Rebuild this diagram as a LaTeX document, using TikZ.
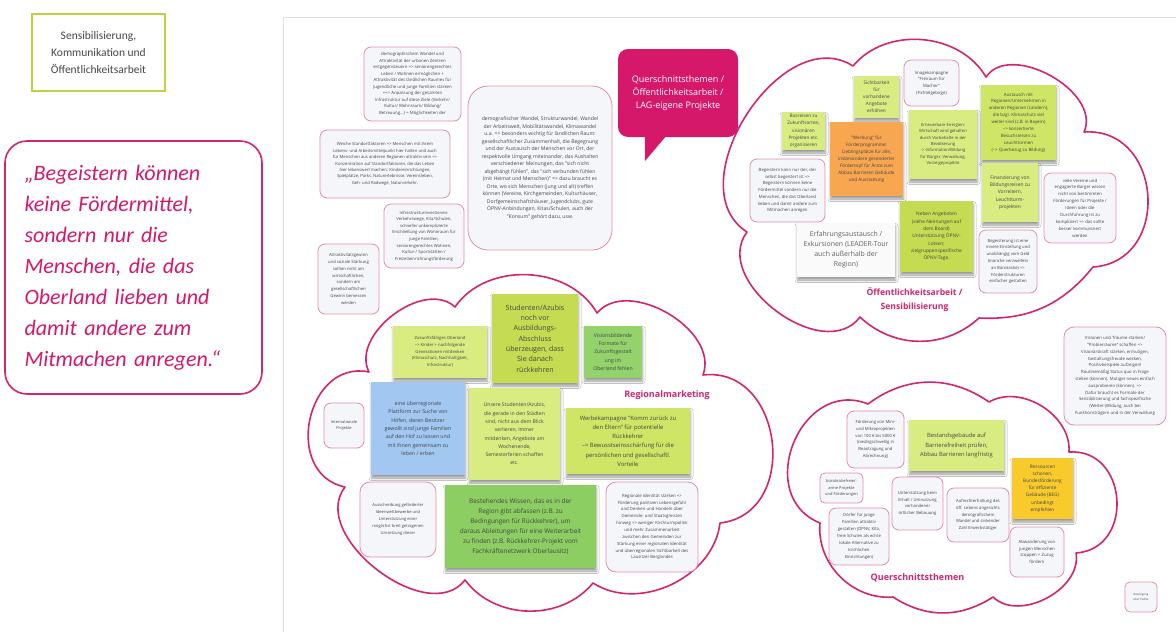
\documentclass[tikz,border=0pt]{standalone}
\usepackage{fontspec}
\setmainfont{Open Sans}
\newfontfamily\calfont{Carlito}
\usepackage{tikz}
\usetikzlibrary{
  positioning,
  shadows.blur
}
\usepackage{xcolor}

\definecolor{cloudline}{RGB}{212,36,112}
\definecolor{bubblefill}{RGB}{214,24,106}
\definecolor{pinkedge}{RGB}{226,140,178}
\definecolor{boxfill}{RGB}{245,246,249}
\definecolor{notetext}{RGB}{70,70,70}
\definecolor{limelight}{RGB}{216,236,130}
\definecolor{limemid}{RGB}{206,229,102}
\definecolor{limedark}{RGB}{196,219,82}
\definecolor{notegreen}{RGB}{148,210,108}
\definecolor{notegreendeep}{RGB}{140,206,98}
\definecolor{noteorange}{RGB}{248,166,80}
\definecolor{noteyellow}{RGB}{248,202,44}
\definecolor{noteblue}{RGB}{162,199,240}
\definecolor{topicedge}{RGB}{190,212,62}

\newcommand{\fsz}[2]{\fontsize{#1}{#2}\selectfont}

\tikzset{
	pinkbox/.style={draw=pinkedge, line width=0.8pt, fill=boxfill, rounded corners=7pt,
		align=center, text=notetext, inner sep=1pt},
	sticky/.style={align=center, text=notetext, inner sep=1pt,
		blur shadow={shadow xshift=0.5pt, shadow yshift=-3pt, shadow blur radius=2.5pt, shadow opacity=40}},
	puffline/.style={draw=cloudline, line width=1.6pt, fill=white, line join=round},
	cloudtitle/.style={text=cloudline, font=\bfseries\fsz{8.6}{13.5}, align=center}
}

\begin{document}
\begin{tikzpicture}[x=1pt, y=-1pt]
	\useasboundingbox (0,0) rectangle (1176,632);
	\fill[white] (0,0) rectangle (1176,632);

	% left side
	\node[draw=topicedge, line width=1.6pt, minimum width=133pt, minimum height=77pt, align=center,
		text=notetext, font=\calfont\fsz{11.5}{16.8}] (topicbox) at (98.5,52.5)
		{Sensibilisierung,\\Kommunikation und\\Öffentlichkeitsarbeit};
	\node[draw=cloudline, line width=1.6pt, rounded corners=22pt, minimum width=257pt, minimum height=253pt,
		text width=218pt, align=left, text=bubblefill, font=\calfont\itshape\fsz{22}{31}] (quotebox) at (133.5,267.5)
		{„Begeistern können\\keine Fördermittel,\\sondern nur die\\Menschen, die das\\Oberland lieben und\\damit andere zum\\Mitmachen anregen.“};

	% board
	\draw[gray!25, line width=1pt] (1176,17) -- (283,17) -- (283,632);

	% clouds
	\draw[puffline] (853,66) to[bend left=55] (986,77) to[bend left=85] (1084,132)
		to[bend left=90, looseness=1.5] (1093,267) to[bend left=27] (979,318) to[bend left=43] (860,317)
		to[bend left=90, looseness=1.1] (747,232) to[bend left=90, looseness=1.1] (853,66) -- cycle;
	\draw[puffline] (455,307) to[bend left=58] (597,313) to[bend left=80] (703,375)
		to[bend left=90, looseness=1.4] (720,523) to[bend left=58] (593,583) to[bend left=52] (465,580)
		to[bend left=90, looseness=1.03] (345,487) to[bend left=90, looseness=1.4] (369,372)
		to[bend left=80] (455,307) -- cycle;
	\draw[puffline] (868,404) to[bend left=36] (989,402) to[bend left=62] (1069,452)
		to[bend left=90, looseness=1.5] (1076,553) to[bend left=72] (993,597) to[bend left=33] (893,597)
		to[bend left=50] (820,523) to[bend left=90, looseness=1.45] (868,404) -- cycle;

	% loose notes, top left of the board
	\node[pinkbox, minimum width=97pt, minimum height=74pt, font=\fsz{4.3}{6.5}] (demowandel) at (412.5,84)
		{demographischem Wandel und\\Attraktivität der urbanen Zentren\\entgegensteuern => seniorengerechtes\\Leben / Wohnen ermöglichen +\\Attraktivität des ländlichen Raumes für\\Jugendliche und junge Familien stärken\\==> Anpassung der gesamten\\Infrastruktur auf diese Ziele (Verkehr/\\Kultur/ Wohnraum/ Bildung/\\Betreuung...) = Möglichkeiten der};
	\node[pinkbox, minimum width=130pt, minimum height=68pt, font=\fsz{4.2}{6.4}] (standort) at (385,164)
		{Weiche Standortfaktoren => Menschen mit ihrem\\Lebens- und Arbeitsmittelpunkt hier halten und auch\\für Menschen aus anderen Regionen attraktiv sein =>\\Konzentration auf Standortfaktoren, die das Leben\\hier lebenswert machen: Kindereinrichtungen,\\Spielplätze, Parks, Naturerlebnisse, Vereinsleben,\\Geh- und Radwege, Naturverkehr.};
	\node[pinkbox, minimum width=80pt, minimum height=64pt, font=\fsz{4.2}{6.6}] (infra) at (424,236)
		{Infrastrukturinvestionen:\\Verkehrswege, Kita/Schulen,\\schnelle/ unkomplizierte\\Erschließung von Wohnraum für\\junge Familien,\\seniorengerechtes Wohnen,\\Kultur-/ Sportstätten-/\\Freizeiteinrichtungsförderung};
	\node[pinkbox, minimum width=61pt, minimum height=70pt, font=\fsz{4.2}{6.8}] (gewinn) at (348.5,279)
		{Attraktivitätsgewinn\\und soziale Stärkung\\sollten nicht am\\wirtschaftlichen,\\sondern am\\gesellschaftlichen\\Gewinn bemessen\\werden};
	\node[pinkbox, rounded corners=20pt, minimum width=144pt, minimum height=164pt, font=\fsz{5.1}{7.5}] (zusammenhalt) at (540,168)
		{demografischer Wandel, Strukturwandel, Wandel\\der Arbeitswelt, Mobilitätswandel, Klimawandel\\u.a. => besonders wichtig für ländlichen Raum:\\gesellschaftlicher Zusammenhalt, die Begegnung\\und der Austausch der Menschen vor Ort, der\\respektvolle Umgang miteinander, das Aushalten\\verschiedener Meinungen, das "sich nicht\\abgehängt fühlen", das "sich verbunden fühlen\\(mit Heimat und Menschen)" => dazu braucht es\\Orte, wo sich Menschen (jung und alt) treffen\\können (Vereine, Kirchgemeinden, Kulturhäuser,\\Dorfgemeinschaftshäuser, Jugendclubs, gute\\ÖPNV-Anbindungen, Kitas/Schulen, auch der\\"Konsum" gehört dazu, usw.};

	% speech bubble
	\node[fill=bubblefill, rounded corners=10pt, minimum width=120pt, minimum height=88pt, align=center,
		text=white, font=\fsz{9}{13.3}] (lagbubble) at (678,93)
		{Querschnittsthemen /\\Öffentlichkeitsarbeit /\\LAG-eigene Projekte};
	\fill[bubblefill] ([xshift=27pt, yshift=2pt]lagbubble.south west) -- ++(22,0) -- ++(-22,26) -- cycle;

	% Oeffentlichkeitsarbeit / Sensibilisierung
	\node[sticky, fill=limelight, minimum width=43pt, minimum height=38pt, font=\fsz{4.7}{7.2}] (busreisen) at (803.5,131)
		{Busreisen zu\\Zukunftsorten,\\visionären\\Projekten etc.\\organisieren};
	\node[sticky, fill=limelight, minimum width=45pt, minimum height=42pt, font=\fsz{4.7}{6.9}] (sichtbarkeit) at (876.5,97)
		{Sichtbarkeit\\für\\vorhandene\\Angebote\\erhöhen};
	\node[pinkbox, minimum width=55pt, minimum height=46pt, font=\fsz{4.3}{6.6}] (imagekampagne) at (931.5,83)
		{Imagekampagne\\"Freiraum für\\Macher"\\(Fichtelgebirge)};
	\node[sticky, fill=noteorange, minimum width=73pt, minimum height=74pt, font=\fsz{4.6}{7}] (werbung) at (866.5,159)
		{"Werbung" für\\Förderprogramme:\\Lieblingsplätze für alle,\\insbesondere gesonderter\\Fördertopf für Ärzte zum\\Abbau Barrieren Gebäude\\und Ausstattung};
	\node[sticky, fill=limelight, minimum width=68pt, minimum height=69pt, font=\fsz{4.2}{6.4}] (energien) at (943,144.5)
		{Erneuerbare Energien:\\Wirtschaft wird gehalten\\durch Vorbehalte in der\\Bevölkerung\\-> Information/Bildung\\für Bürger, Verwaltung,\\Vorzeigeprojekte};
	\node[sticky, fill=limemid, minimum width=75pt, minimum height=75pt, font=\fsz{4.4}{6.9}] (austausch) at (1018.5,122.5)
		{Austausch mit\\Regionen/Unternehmen in\\anderen Regionen (Ländern),\\die bzgl. Klimaschutz viel\\weiter sind (z.B. in Bayern)\\--> konzertierte\\Besuchsreisen zu\\Leuchttürmen\\(--> Querbezug zu Bildung)};
	\node[pinkbox, minimum width=75pt, minimum height=63pt, font=\fsz{4.3}{6.7}] (begeistern) at (787.5,190.5)
		{Begeistern kann nur der, der\\selbst begeistert ist =>\\Begeistern können keine\\Fördermittel sondern nur die\\Menschen, die das Oberland\\lieben und damit andere zum\\Mitmachen anregen};
	\node[sticky, fill=limelight, minimum width=56pt, minimum height=59pt, font=\fsz{4.9}{7.3}] (bildungsreisen) at (1010,192.5)
		{Finanzierung von\\Bildungsreisen zu\\Vorreitern,\\Leuchtturm-\\projekten};
	\node[pinkbox, minimum width=72pt, minimum height=70pt, font=\fsz{4.3}{6.9}] (vereine) at (1080,208)
		{viele Vereine und\\engagierte Bürger wissen\\nicht von bestimmten\\Förderungen für Projekte /\\Ideen oder die\\Durchführung ist zu\\kompliziert => das sollte\\besser kommuniziert\\werden};
	\node[sticky, fill=white!96!gray, minimum width=98pt, minimum height=54pt, text=notetext!85, font=\fsz{6.9}{10}] (exkursionen) at (846,250)
		{Erfahrungsaustausch /\\Exkursionen (LEADER-Tour\\auch außerhalb der\\Region)};
	\node[sticky, fill=limedark, minimum width=73pt, minimum height=71pt, font=\fsz{4.8}{7.3}] (oepnv) at (936.5,236.5)
		{Neben Angeboten\\(siehe Nennungen auf\\dem Board)\\Unterstützung ÖPNV-\\Lotsen;\\zielgruppenspezifische\\ÖPNV-Tage.};
	\node[pinkbox, minimum width=58pt, minimum height=63pt, font=\fsz{4.2}{6.8}] (einstellung) at (1008,261.5)
		{Begeisterung ist eine\\innere Einstellung und\\unabhängig vom Geld\\(manche verzweifeln\\an Bürokratie) =>\\Förderstrukturen\\einfacher gestalten};
	\node[cloudtitle] (titleoeff) at (914.5,299.5) {Öffentlichkeitsarbeit /\\Sensibilisierung};

	% between the clouds
	\node[pinkbox, rounded corners=10pt, minimum width=102pt, minimum height=98pt, font=\fsz{4.3}{6.8}] (visionen) at (1115,376)
		{Visionen und Träume stärken/\\"Probierräume" schaffen =>\\Visionärskraft stärken, ermutigen,\\Gestaltungsfreude wecken,\\Positivbeispiele aufzeigen!\\Routinemäßig Status quo in Frage\\stellen (können). Mutiger neues einfach\\ausprobieren (können). =>\\Dafür braucht es Formate der\\Sensibilisierung und fachspezifische\\(Weiter-)Bildung, auch bei\\Funktionsträgern und in der Verwaltung};

	% Regionalmarketing
	\node[sticky, fill=limedark, minimum width=86pt, minimum height=89pt, font=\fsz{7.1}{10.3}] (azubisvor) at (535,338.5)
		{Studenten/Azubis\\noch vor\\Ausbildungs-\\Abschluss\\überzeugen, dass\\Sie danach\\rückkehren};
	\node[sticky, fill=limelight, minimum width=94pt, minimum height=52pt, font=\fsz{4.2}{6.7}] (zukunft) at (440,352)
		{Zukunftsfähiges Oberland\\--> Kinder + nachfolgende\\Generationen mitdenken\\(Klimaschutz, Nachhaltigkeit,\\Infrastruktur)};
	\node[sticky, fill=notegreen, minimum width=58pt, minimum height=52pt, font=\fsz{5.2}{8.4}] (visionsformate) at (613,352)
		{Visionsbildende\\Formate für\\Zukunftsgestalt\\ung im\\Oberland fehlen};
	\node[pinkbox, minimum width=40pt, minimum height=45pt, font=\fsz{4}{5.8}] (international) at (344,425.5)
		{Internationale\\Projekte};
	\node[sticky, fill=noteblue, minimum width=94pt, minimum height=93pt, font=\fsz{5.3}{8.4}] (plattform) at (418,428.5)
		{eine überregionale\\Plattform zur Suche von\\Höfen, deren Besitzer\\gewollt sind junge Familien\\auf den Hof zu lassen und\\mit ihnen gemeinsam zu\\leben / erben};
	\node[sticky, fill=limelight, minimum width=91pt, minimum height=92pt, font=\fsz{5.1}{8.3}] (azubisstadt) at (514.5,434)
		{Unsere Studenten/Azubis,\\die gerade in den Städten\\sind, nicht aus dem Blick\\verlieren, Immer\\mitdenken, Angebote am\\Wochenende,\\Semesterferien schaffen\\etc.};
	\node[sticky, fill=limemid, minimum width=124pt, minimum height=66pt, font=\fsz{5.9}{9.2}] (komm) at (628,441)
		{Werbekampagne "Komm zurück zu\\den Eltern" für potentielle\\Rückkehrer\\--> Bewusstseinsschärfung für die\\persönlichen und gesellschaftl.\\Vorteile};
	\node[sticky, fill=notegreendeep, minimum width=151pt, minimum height=83pt, font=\fsz{6.4}{10}] (wissen) at (520.5,526.5)
		{Bestehendes Wissen, das es in der\\Region gibt abfassen (z.B. zu\\Bedingungen für Rückkehrer), um\\daraus Ableitungen für eine Weiterarbeit\\zu finden (z.B. Rückkehrer-Projekt vom\\Fachkräftenetzwerk Oberlausitz)};
	\node[pinkbox, rounded corners=10pt, minimum width=76pt, minimum height=75pt, font=\fsz{4.1}{6.9}] (ideen) at (398,519.5)
		{Ausschreibung geförderter\\Ideenwettbewerbe und\\Unterstützung einer\\möglichst breit getragenen\\Umsetzung dieser};
	\node[pinkbox, rounded corners=10pt, minimum width=92pt, minimum height=90pt, font=\fsz{4.3}{6.85}] (identitaet) at (652,527)
		{Regionale Identität stärken =>\\Förderung positiven Lebensgefühl\\und Denken und Handeln über\\Gemeinde- und Staatsgrenzen\\hinweg => weniger Kirchturmpolitik\\und mehr Zusammenarbeit\\zwischen den Gemeinden zur\\Stärkung einer regionalen Identität\\und überregionalen Sichtbarkeit des\\Lausitzer Berglandes};
	\node[cloudtitle, font=\bfseries\fsz{9}{13}] (titlereg) at (667,395) {Regionalmarketing};

	% Querschnittsthemen
	\node[pinkbox, minimum width=57pt, minimum height=57pt, font=\fsz{4.2}{6.8}] (mikro) at (875.5,439.5)
		{Förderung von Mini-\\und Mikroprojekten\\von 100 € bis 5000 €\\(niedrigschwellig in\\Beantragung und\\Abrechnung)};
	\node[sticky, fill=limelight, minimum width=95pt, minimum height=51pt, font=\fsz{5.8}{9.2}] (barrieren) at (956.5,445.5)
		{Bestandsgebäude auf\\Barrierefreiheit prüfen,\\Abbau Barrieren langfristig};
	\node[pinkbox, rounded corners=5pt, minimum width=43pt, minimum height=30pt, font=\fsz{4}{6.4}] (buerokratie) at (841.5,488)
		{bürokratiefreie/-\\arme Projekte\\und Förderungen};
	\node[pinkbox, minimum width=60pt, minimum height=57pt, font=\fsz{4.2}{6.9}] (doerfer) at (859,536.5)
		{Dörfer für junge\\Familien attraktiv\\gestalten (ÖPNV, Kita,\\freie Schulen als echte\\lokale Alternative zu\\kirchlichen\\Einrichtungen)};
	\node[pinkbox, minimum width=51pt, minimum height=53pt, font=\fsz{4.2}{6.7}] (bebauung) at (917.5,503.5)
		{Unterstützung beim\\Erhalt / Umnutzung\\vorhandener\\örtlicher Bebauung};
	\node[pinkbox, minimum width=62pt, minimum height=54pt, font=\fsz{4.2}{6.8}] (leben) at (978,515)
		{Aufrechterhaltung des\\öff. Lebens angesichts\\demografischem\\Wandel und sinkender\\Zahl Erwerbstätiger};
	\node[sticky, fill=noteyellow, minimum width=61pt, minimum height=61pt, font=\fsz{4.7}{7.2}] (ressourcen) at (1042.5,488.5)
		{Ressourcen\\schonen,\\Bundesförderung\\für effiziente\\Gebäude (BEG)\\unbedingt\\empfehlen};
	\node[pinkbox, minimum width=54pt, minimum height=50pt, font=\fsz{4.3}{6.7}] (abwanderung) at (1037,552)
		{Abwanderung von\\jungen Menschen\\stoppen + Zuzug\\fördern};
	\node[cloudtitle, font=\bfseries\fsz{9}{13}] (titlequer) at (917.5,578) {Querschnittsthemen};

	\node[pinkbox, rounded corners=5pt, minimum width=32pt, minimum height=30pt, font=\fsz{2.8}{4.2}] (padlet) at (1141,597)
		{Beteiligung\\über Padlet};

\end{tikzpicture}
\end{document}
